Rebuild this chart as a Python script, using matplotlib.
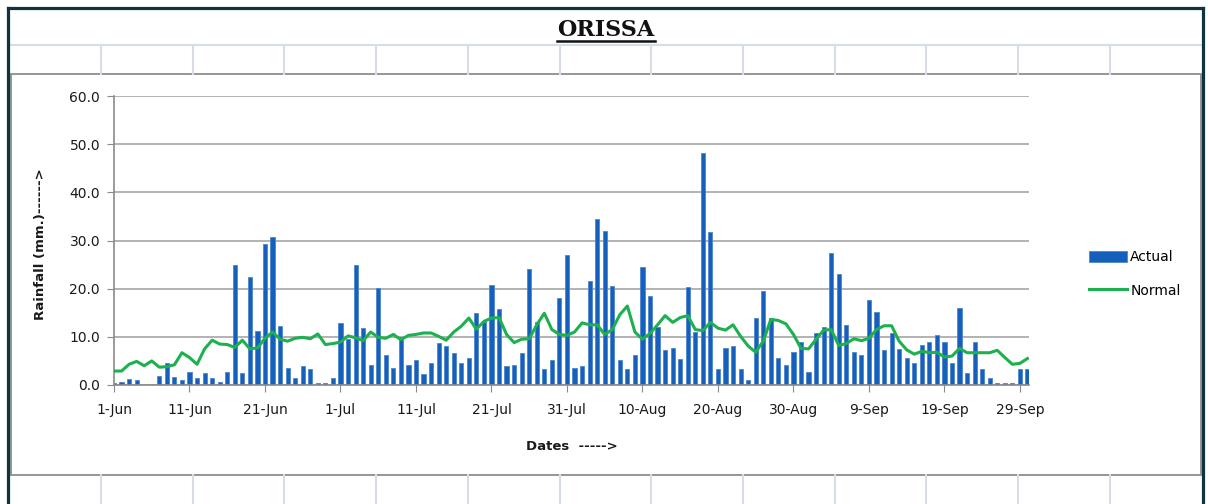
import numpy as np
import matplotlib.pyplot as plt
from matplotlib.patches import Rectangle

# daily rainfall, 1-Jun .. 30-Sep (mm)
actual = [
    0.4, 0.7, 1.3, 1.0, 0.0, 0.0, 1.8, 4.5, 1.6, 1.0,
    2.8, 1.4, 2.5, 1.4, 0.7, 2.7, 24.9, 2.5, 22.5, 11.3,
    29.2, 30.8, 12.2, 3.6, 1.4, 4.0, 3.4, 0.4, 0.4, 1.4,
    12.9, 9.6, 24.9, 11.8, 4.2, 20.1, 6.2, 3.6, 10.0, 4.2,
    5.1, 2.2, 4.5, 8.7, 8.1, 6.6, 4.5, 5.7, 14.9, 13.0,
    20.8, 15.7, 3.9, 4.2, 6.6, 24.0, 13.0, 3.4, 5.1, 18.1,
    27.0, 3.6, 3.9, 21.6, 34.4, 32.0, 20.5, 5.1, 3.4, 6.2,
    24.6, 18.5, 12.1, 7.2, 7.7, 5.3, 20.4, 11.0, 48.2, 31.7,
    3.4, 7.7, 8.0, 3.4, 1.0, 14.0, 19.6, 14.0, 5.7, 4.2,
    6.9, 9.0, 2.7, 10.8, 12.1, 27.5, 23.1, 12.5, 6.9, 6.2,
    17.7, 15.1, 7.2, 10.8, 7.5, 5.7, 4.5, 8.4, 9.0, 10.4,
    9.0, 4.5, 16.0, 2.5, 9.0, 3.4, 1.5, 0.4, 0.4, 0.4,
    3.4, 3.4,
]
normal = [
    2.9, 2.9, 4.3, 4.9, 4.0, 5.0, 3.7, 3.8, 4.2, 6.7,
    5.7, 4.3, 7.5, 9.3, 8.5, 8.4, 7.8, 9.3, 7.5, 7.7,
    9.7, 11.0, 9.5, 9.1, 9.7, 9.9, 9.6, 10.6, 8.4, 8.6,
    8.9, 10.2, 9.8, 9.2, 11.0, 9.9, 9.7, 10.5, 9.4, 10.3,
    10.5, 10.8, 10.8, 10.1, 9.3, 11.0, 12.2, 13.9, 11.6, 13.2,
    13.9, 14.0, 10.5, 8.8, 9.5, 9.6, 12.5, 14.9, 11.5, 10.5,
    10.3, 11.0, 12.9, 12.5, 12.5, 10.5, 11.5, 14.6, 16.4, 11.0,
    9.5, 10.7, 12.5, 14.4, 13.0, 14.0, 14.4, 11.5, 11.3, 13.0,
    11.8, 11.4, 12.5, 10.1, 8.1, 6.8, 9.1, 13.6, 13.4, 12.7,
    10.5, 7.6, 7.5, 9.5, 11.4, 11.5, 8.2, 8.6, 9.6, 9.2,
    9.7, 11.5, 12.3, 12.3, 9.1, 7.3, 6.4, 7.0, 6.7, 6.8,
    5.8, 6.0, 7.6, 6.7, 6.7, 6.7, 6.7, 7.2, 5.7, 4.3,
    4.5, 5.5,
]
tick_labels = ["1-Jun", "11-Jun", "21-Jun", "1-Jul", "11-Jul", "21-Jul", "31-Jul",
               "10-Aug", "20-Aug", "30-Aug", "9-Sep", "19-Sep", "29-Sep"]

days = np.arange(len(actual))
W, H = 1208, 504

fig = plt.figure(figsize=(W / 100, H / 100), dpi=100)
fig.patch.set_facecolor("white")

# worksheet backdrop: cell lines, chart frame, dark outer border
bg = fig.add_axes([0, 0, 1, 1], zorder=0)
bg.set_xlim(0, W)
bg.set_ylim(H, 0)
bg.axis("off")
cell = "#D6DCE8"
bg.plot([11, 1201], [45, 45], color=cell, lw=1.5)
for k in range(1, 13):
    cx = 101 + 91.7 * (k - 1)
    if cx > 1200:
        break
    bg.plot([cx, cx], [45, 74], color=cell, lw=1.5)
    bg.plot([cx, cx], [475, H], color=cell, lw=1.5)
bg.add_patch(Rectangle((11, 74), 1190, 401, fill=False, ec="#8E8E8E", lw=1.3))
dark = "#0E3440"
bg.plot([8, 8], [8, H], color=dark, lw=2.3)
bg.plot([8, 1202.5], [8, 8], color=dark, lw=2.3)
bg.plot([1202.5, 1202.5], [8, H], color=dark, lw=2.3)

# title with underline
title = bg.text(606, 30, "ORISSA", ha="center", va="center",
                fontsize=16, fontweight="bold", family="DejaVu Serif", color="#111111")
fig.canvas.draw()
bb = title.get_window_extent().transformed(bg.transData.inverted())
bg.plot([bb.x0, bb.x1], [41, 41], color="#111111", lw=1.8)

ax = fig.add_axes([114 / W, (H - 385) / H, (1029 - 114) / W, (385 - 96) / H], zorder=1)
ax.set_facecolor("none")

bars = ax.bar(days, actual, width=0.55, color="#1560BD", edgecolor="#4F86CF",
              linewidth=0.6, label="Actual", zorder=2)
line, = ax.plot(days, normal, color="#1DB04F", lw=2.2, label="Normal", zorder=3)

ax.set_xlim(0, 121.2)
ax.set_ylim(0, 60)
ax.set_yticks(np.arange(0, 61, 10))
ax.set_yticklabels([f"{v:.1f}" for v in np.arange(0, 61, 10)])
ax.set_xticks(np.arange(0, 121, 10))
ax.set_xticklabels(tick_labels)
ax.yaxis.grid(True, color="#A6A6A6", lw=1.2, zorder=0)
ax.set_axisbelow(True)

for s in ["top", "right"]:
    ax.spines[s].set_visible(False)
for s in ["left", "bottom"]:
    ax.spines[s].set_color("#8A8A8A")
    ax.spines[s].set_linewidth(1.2)
ax.tick_params(axis="both", direction="out", length=5, color="#8A8A8A",
               labelsize=10, labelcolor="#1A1A1A")
ax.tick_params(axis="x", pad=8)
ax.tick_params(axis="y", pad=5)

ax.set_xlabel("Dates  ----->", fontsize=9.5, fontweight="bold", color="#1A1A1A")
ax.xaxis.set_label_coords(0.5, -(440 - 385) / 289)
ax.set_ylabel("Rainfall (mm.)------>", fontsize=9.5, fontweight="bold", color="#1A1A1A")
ax.yaxis.set_label_coords(-(114 - 47) / 915, (385 - 244) / 289)

ax.legend(handles=[bars, line], loc="center left",
          bbox_to_anchor=(1076 / W, (H - 274) / H), bbox_transform=fig.transFigure,
          frameon=False, fontsize=10, handlelength=2.75, handleheight=0.9,
          handletextpad=0.25, labelspacing=1.4)

fig.savefig("out.png", dpi=100)
